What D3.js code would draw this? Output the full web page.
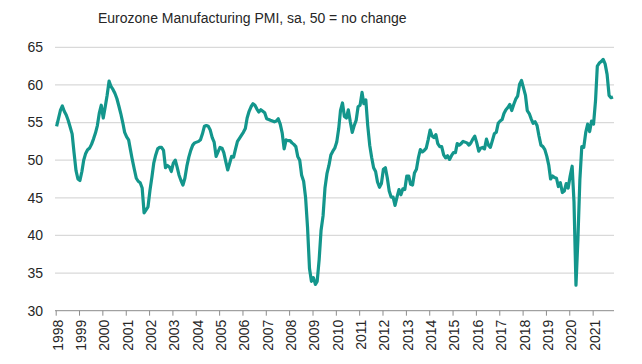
<!DOCTYPE html>
<html>
<head>
<meta charset="utf-8">
<script src="https://cdn.jsdelivr.net/npm/d3@7"></script>
<style>
  html, body { margin: 0; padding: 0; background: #fff; }
  svg { display: block; font-family: "Liberation Sans", Arial, sans-serif; }
</style>
</head>
<body>
<svg id="chart" width="642" height="364"></svg>
<script>
// Monthly Eurozone Manufacturing PMI, Jan 1998 - Nov 2021
const startYear = 1998;
const pmi1998 = [54.5, 55.6, 56.6, 57.2, 56.5, 56.0, 55.3, 54.4, 53.5, 51.0, 48.6, 47.5];
const pmi1999 = [47.3, 48.5, 50.0, 50.9, 51.4, 51.6, 52.1, 52.8, 53.6, 54.6, 56.3, 57.3];
const pmi2000 = [55.6, 57.1, 58.6, 60.5, 59.8, 59.4, 58.9, 58.2, 57.2, 56.2, 55.0, 53.7];
const pmi2001 = [53.1, 52.7, 51.4, 50.0, 48.8, 47.6, 47.2, 47.0, 46.3, 43.0, 43.4, 43.8];
const pmi2002 = [46.0, 47.8, 49.6, 50.7, 51.5, 51.7, 51.7, 51.3, 49.0, 49.3, 49.1, 48.5];
const pmi2003 = [49.6, 50.0, 49.1, 48.0, 47.3, 46.7, 47.6, 49.2, 50.4, 51.3, 52.0, 52.3];
const pmi2004 = [52.4, 52.5, 52.7, 53.5, 54.5, 54.6, 54.5, 54.0, 53.0, 52.4, 50.5, 51.1];
const pmi2005 = [51.7, 51.6, 51.0, 49.8, 48.7, 49.6, 50.5, 50.4, 51.5, 52.5, 52.9, 53.3];
const pmi2006 = [53.7, 54.2, 55.6, 56.5, 57.1, 57.5, 57.3, 56.8, 56.4, 56.7, 56.5, 56.3];
const pmi2007 = [55.5, 55.4, 55.3, 55.2, 55.1, 55.2, 55.5, 54.8, 53.6, 51.5, 52.7, 52.6];
const pmi2008 = [52.6, 52.3, 52.1, 51.8, 50.5, 50.0, 48.0, 47.2, 45.0, 41.1, 35.6, 33.9];
const pmi2009 = [34.4, 33.5, 33.9, 36.8, 40.7, 42.6, 46.3, 48.2, 49.3, 50.7, 51.2, 51.6];
const pmi2010 = [52.4, 54.2, 56.6, 57.6, 55.8, 55.6, 56.7, 55.1, 53.7, 54.6, 55.3, 57.1];
const pmi2011 = [57.3, 59.0, 57.5, 58.0, 54.6, 52.0, 50.4, 49.0, 48.5, 47.1, 46.4, 46.9];
const pmi2012 = [48.8, 49.0, 47.7, 45.9, 45.1, 45.1, 44.0, 45.1, 46.1, 45.4, 46.2, 46.1];
const pmi2013 = [47.9, 47.9, 46.8, 46.7, 48.3, 48.8, 50.3, 51.4, 51.1, 51.3, 51.6, 52.7];
const pmi2014 = [54.0, 53.2, 53.0, 53.4, 52.2, 51.8, 51.8, 50.7, 50.3, 50.6, 50.1, 50.6];
const pmi2015 = [51.0, 51.0, 52.2, 52.0, 52.2, 52.5, 52.4, 52.3, 52.0, 52.3, 52.8, 53.2];
const pmi2016 = [52.3, 51.2, 51.6, 51.7, 51.5, 52.8, 52.0, 51.7, 52.6, 53.5, 53.7, 54.9];
const pmi2017 = [55.2, 55.4, 56.2, 56.7, 57.0, 57.4, 56.6, 57.4, 58.1, 58.5, 60.1, 60.6];
const pmi2018 = [59.6, 58.6, 56.6, 56.2, 55.5, 54.9, 55.1, 54.6, 53.2, 52.0, 51.8, 51.4];
const pmi2019 = [50.5, 49.3, 47.5, 47.9, 47.7, 47.6, 46.5, 47.0, 45.7, 45.9, 46.9, 46.3];
const pmi2020 = [47.9, 49.2, 44.5, 33.4, 39.4, 47.4, 51.8, 51.7, 53.7, 54.8, 53.8, 55.2];
const pmi2021 = [54.8, 57.9, 62.5, 62.9, 63.1, 63.4, 62.8, 61.4, 58.6, 58.3, 58.4];

const yTicks = [30, 35, 40, 45, 50, 55, 60, 65];
const xTickYears = d3.range(1998, 2022);
const titleText = "Eurozone Manufacturing PMI, sa, 50 = no change";

const years = [pmi1998, pmi1999, pmi2000, pmi2001, pmi2002, pmi2003, pmi2004, pmi2005,
  pmi2006, pmi2007, pmi2008, pmi2009, pmi2010, pmi2011, pmi2012, pmi2013, pmi2014,
  pmi2015, pmi2016, pmi2017, pmi2018, pmi2019, pmi2020, pmi2021];
const data = [];
years.forEach((arr, i) => arr.forEach((v, m) => data.push({ date: new Date(startYear + i, m, 15), value: v })));

const svg = d3.select("#chart");
const x = d3.scaleTime()
  .domain([new Date(1998, 0, 1), new Date(2021, 11, 1)])
  .range([55.7, 614]);
const y = d3.scaleLinear().domain([30, 65]).range([310.7, 47.3]);

// title
svg.append("text").attr("x", 98).attr("y", 23)
  .attr("font-size", 14).attr("fill", "#262626").text(titleText);

// gridlines
svg.append("g").selectAll("line").data(yTicks.filter(d => d > 30)).join("line")
  .attr("x1", 55).attr("x2", 614)
  .attr("y1", d => y(d)).attr("y2", d => y(d))
  .attr("stroke", "#d9d9d9").attr("stroke-width", 1.2);

// y labels
svg.append("g").selectAll("text").data(yTicks).join("text")
  .attr("x", 43).attr("y", d => y(d)).attr("dy", "0.35em")
  .attr("text-anchor", "end").attr("font-size", 14).attr("fill", "#262626")
  .text(d => d);

// x axis
const xAxis = d3.axisBottom(x)
  .tickValues(xTickYears.map(yr => new Date(yr, 0, 1)))
  .tickFormat(d3.timeFormat("%Y"))
  .tickSizeOuter(0).tickSize(5);
const gx = svg.append("g").attr("transform", `translate(0,${y(30)})`).call(xAxis);
gx.select(".domain").attr("stroke", "#8c8c8c").attr("d", `M55,0H614`);
gx.selectAll(".tick line").attr("stroke", "#8c8c8c");
gx.selectAll(".tick text")
  .attr("font-family", "\"Liberation Sans\", Arial, sans-serif")
  .attr("font-size", 14).attr("fill", "#262626")
  .attr("text-anchor", "end")
  .attr("transform", "rotate(-90)")
  .attr("x", -9).attr("y", 1.5).attr("dy", "0.35em");

// line
const line = d3.line().x(d => x(d.date)).y(d => y(d.value));
svg.append("path").datum(data)
  .attr("fill", "none").attr("stroke", "#13968c")
  .attr("stroke-width", 3.2).attr("stroke-linejoin", "round")
  .attr("d", line);
</script>
</body>
</html>
